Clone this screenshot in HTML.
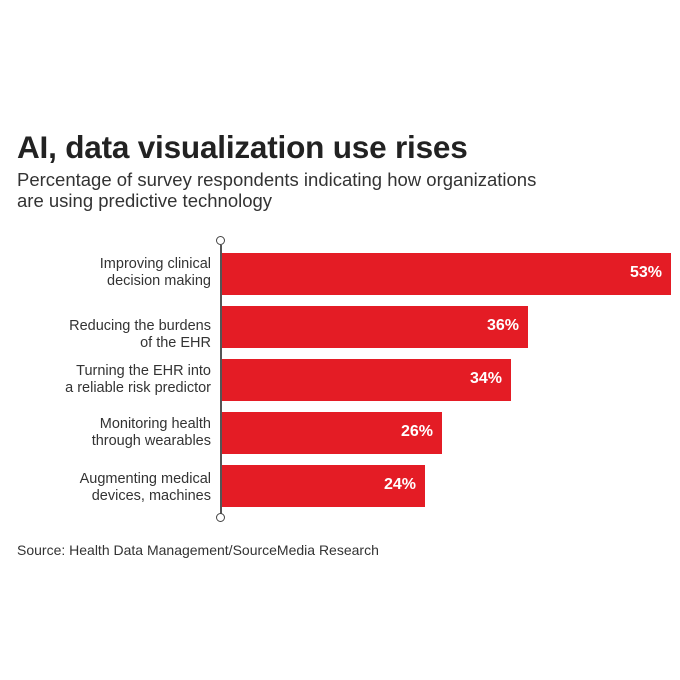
<!DOCTYPE html>
<html><head><style>
body{margin:0;background:#fff;font-family:"Liberation Sans",sans-serif;color:#222;}
.w{position:relative;width:680px;height:680px;overflow:hidden;}
.t{position:absolute;left:17px;top:129px;font-size:31.5px;font-weight:bold;letter-spacing:-0.2px;}
.s{position:absolute;left:17px;top:169px;font-size:18.5px;line-height:21px;color:#333;}
.bar{position:absolute;left:222px;height:42px;background:#e41c25;}
.v{position:absolute;right:9px;top:11px;color:#fff;font-weight:bold;font-size:16px;}
.l{position:absolute;right:469px;width:220px;text-align:right;font-size:14.5px;line-height:17px;color:#333;}
.ax{position:absolute;left:220px;top:245px;width:1.5px;height:270px;background:#555;}
.c{position:absolute;left:216px;width:7px;height:7px;border:1.3px solid #444;border-radius:50%;background:#fff;}
.src{position:absolute;left:17px;top:542px;font-size:14px;color:#333;}
</style></head><body><div class="w">
<div class="t">AI, data visualization use rises</div>
<div class="s">Percentage of survey respondents indicating how organizations<br>are using predictive technology</div>
<div class="ax"></div>
<div class="c" style="top:236px"></div>
<div class="c" style="top:513px"></div>
<div class="bar" style="top:253px;width:449px"><span class="v">53%</span></div>
<div class="bar" style="top:306px;width:306px"><span class="v">36%</span></div>
<div class="bar" style="top:359px;width:289px"><span class="v">34%</span></div>
<div class="bar" style="top:412px;width:220px"><span class="v">26%</span></div>
<div class="bar" style="top:465px;width:203px"><span class="v">24%</span></div>
<div class="l" style="top:256px">Improving clinical<br>decision making</div>
<div class="l" style="top:318px">Reducing the burdens<br>of the EHR</div>
<div class="l" style="top:363px">Turning the EHR into<br>a reliable risk predictor</div>
<div class="l" style="top:416px">Monitoring health<br>through wearables</div>
<div class="l" style="top:471px">Augmenting medical<br>devices, machines</div>
<div class="src">Source: Health Data Management/SourceMedia Research</div>
</div></body></html>
